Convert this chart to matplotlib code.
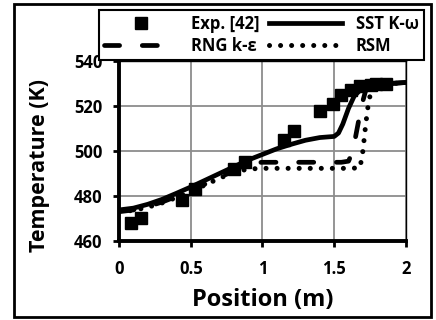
import matplotlib
matplotlib.use("Agg")
import matplotlib.pyplot as plt
from matplotlib.patches import Rectangle

plt.rcParams['font.family'] = ['Open Sans', 'DejaVu Sans']
plt.rcParams['font.weight'] = 'bold'

# experimental data [42]
exp_x = [0.08, 0.15, 0.44, 0.53, 0.80, 0.88, 1.15, 1.22, 1.40, 1.49, 1.55, 1.62, 1.68, 1.76, 1.79, 1.86]
exp_y = [468, 470, 478, 483, 492, 495, 505, 509, 518, 521, 525, 527, 529, 529.5, 530, 530]

# SST k-omega
sst_x = [0, 0.1, 0.2, 0.3, 0.4, 0.5, 0.6, 0.7, 0.8, 0.9, 1.0, 1.1, 1.2, 1.3, 1.4, 1.5,
         1.53, 1.56, 1.6, 1.64, 1.68, 1.72, 1.8, 1.9, 2.0]
sst_y = [473.8, 474.6, 476.3, 478.5, 481.2, 484, 487, 490, 493, 496, 498.5, 501, 503, 504.8, 506, 506.5,
         508, 512, 519, 524.5, 527, 528.2, 529.2, 530, 530.5]

# RNG k-epsilon
rng_x = [0, 0.1, 0.2, 0.3, 0.4, 0.5, 0.6, 0.7, 0.8, 0.9, 0.95, 1.0, 1.2, 1.4, 1.55, 1.6,
         1.63, 1.66, 1.69, 1.72, 1.76, 1.85, 2.0]
rng_y = [473, 473.8, 475.3, 477.3, 479.8, 482.5, 485.3, 488.3, 491.1, 494, 494.8, 495, 495, 495, 495, 495.5,
         500, 510, 520, 527, 529, 530, 530.5]

# RSM
rsm_x = [0, 0.1, 0.2, 0.3, 0.4, 0.5, 0.6, 0.7, 0.8, 0.9, 1.0, 1.2, 1.4, 1.6, 1.68,
         1.70, 1.72, 1.74, 1.76, 1.8, 1.9, 2.0]
rsm_y = [473, 473.6, 475, 476.9, 479.3, 482, 484.9, 487.9, 490.5, 492, 492.3, 492.3, 492.3, 492.3, 492.5,
         500, 512, 522, 527, 529, 530, 530.5]

xticks = [0, 0.5, 1, 1.5, 2]
yticks = [460, 480, 500, 520, 540]

fig = plt.figure(figsize=(4.36, 3.20), dpi=100)
ax = fig.add_axes([0.273, 0.247, 0.658, 0.562])

ax.plot(sst_x, sst_y, '-', color='black', lw=3.4, label='SST K-ω', zorder=4)
ax.plot(rng_x, rng_y, color='black', lw=3.4, dashes=(3.2, 4.8), dash_capstyle='round',
        label='RNG k-ε', zorder=3)
ax.plot(rsm_x, rsm_y, color='black', lw=3.6, linestyle=(0, (0.01, 2.2)), dash_capstyle='round',
        label='RSM', zorder=3)
ax.plot(exp_x, exp_y, 's', color='black', ms=8, lw=0, label='Exp. [42]', zorder=5)

ax.set_xlim(0, 2)
ax.set_ylim(460, 540)
ax.set_xticks(xticks)
ax.set_yticks(yticks)
ax.set_xticklabels(['0', '0.5', '1', '1.5', '2'])
ax.grid(color='#8c8c8c', lw=1.3)
ax.set_axisbelow(True)
for s in ('left', 'bottom'):
    ax.spines[s].set_linewidth(2.8)
for s in ('top', 'right'):
    ax.spines[s].set_linewidth(1.0)
ax.tick_params(direction='out', length=4, width=2, labelsize=12)
ax.tick_params(axis='y', pad=8)
ax.tick_params(axis='x', pad=10)
for t in ax.get_xticklabels() + ax.get_yticklabels():
    t.set_fontweight('bold')

ax.set_xlabel('Position (m)', fontsize=17, fontweight='bold')
ax.set_ylabel('Temperature (K)', fontsize=15.5, fontweight='bold')
ax.xaxis.set_label_coords(0.5, -0.26)
ax.yaxis.set_label_coords(-0.24, 0.42)

h, l = ax.get_legend_handles_labels()
order = [3, 1, 0, 2]
leg = fig.legend([h[i] for i in order], [l[i] for i in order], ncol=2,
                 loc='upper left', bbox_to_anchor=(0.227, 0.969), borderaxespad=0,
                 handlelength=4.4, handletextpad=0.8, columnspacing=0.6,
                 labelspacing=0.25, borderpad=0.3, fancybox=False, framealpha=1,
                 edgecolor='black', prop={'weight': 'bold', 'size': 12})
leg.get_frame().set_linewidth(1.5)

fig.patches.append(Rectangle((0.031, 0.01), 0.957, 0.977, transform=fig.transFigure,
                             fill=False, edgecolor='black', lw=2, zorder=0))

fig.savefig('out.png', dpi=100)
